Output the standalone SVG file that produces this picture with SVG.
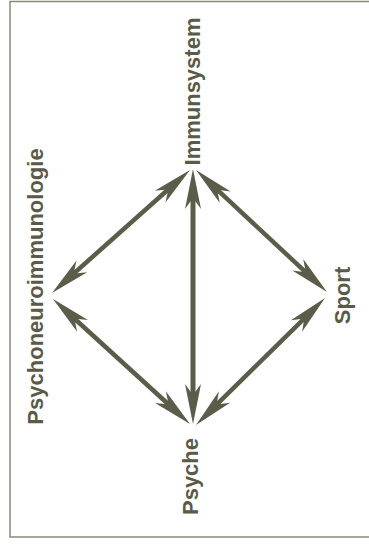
<svg xmlns="http://www.w3.org/2000/svg" width="369" height="547" viewBox="0 0 369 547">
<style>
.lbl{font-family:"Liberation Sans",Arial,sans-serif;font-weight:bold;font-size:22px;fill:#5a5a48;text-anchor:middle}
.conn{stroke:#5c5c4a;stroke-width:4.5;fill:none;marker-start:url(#ah);marker-end:url(#ah)}
</style>
<defs>
<marker id="ah" markerUnits="userSpaceOnUse" viewBox="-12 -10 44 20" refX="0" refY="0" markerWidth="44" markerHeight="20" orient="auto-start-reverse" overflow="visible">
<path d="M30,0 L-10,-8 L-2,-2.2 L-2,2.2 L-10,8 Z" fill="#5c5c4a"/>
</marker>
</defs>
<rect x="10" y="1.5" width="370" height="535.5" fill="#fff" stroke="#8a8a78" stroke-width="1.5"/>
<g id="connectors">
<line class="conn" x1="167.6" y1="190" x2="74.4" y2="273"/>
<line class="conn" x1="217.95" y1="190.45" x2="305.05" y2="271.55"/>
<line class="conn" x1="193" y1="199" x2="193" y2="394" style="stroke-width:5"/>
<line class="conn" x1="75.16" y1="319.22" x2="167.84" y2="403.78"/>
<line class="conn" x1="303.62" y1="319.05" x2="217.38" y2="403.95"/>
</g>
<g id="immunsystem"><text class="lbl" x="199.5" y="91.5" transform="rotate(-90 199.5 91.5)">Immunsystem</text></g>
<g id="psychoneuroimmunologie"><text class="lbl" x="43" y="286.5" transform="rotate(-90 43 286.5)">Psychoneuroimmunologie</text></g>
<g id="sport"><text class="lbl" x="350" y="295.5" transform="rotate(-90 350 295.5)">Sport</text></g>
<g id="psyche"><text class="lbl" x="198" y="476.5" transform="rotate(-90 198 476.5)">Psyche</text></g>
</svg>
